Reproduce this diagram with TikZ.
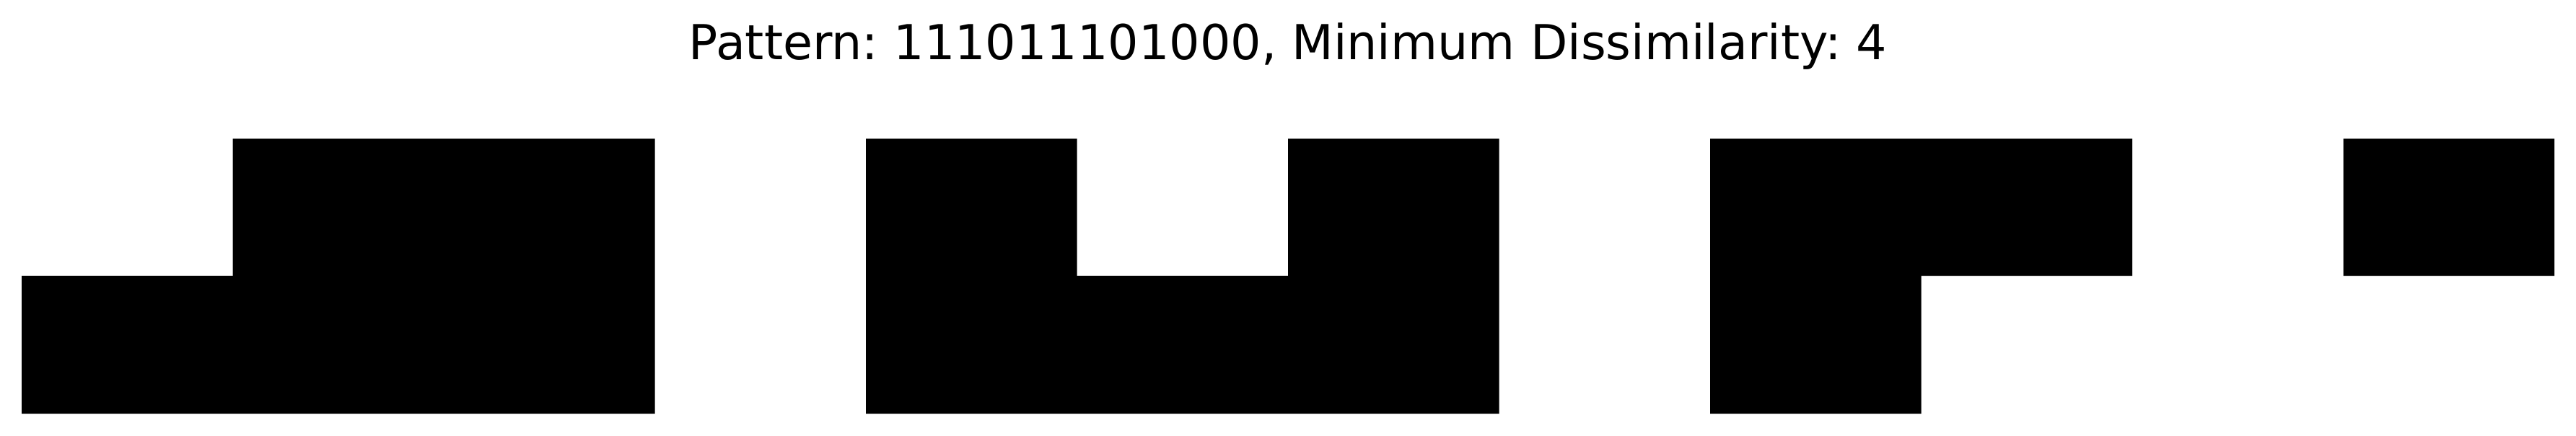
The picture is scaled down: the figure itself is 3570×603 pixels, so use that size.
\documentclass[tikz,border=0pt]{standalone}
\usepackage{fontspec}
\setmainfont{DejaVu Sans}
\frenchspacing
\begin{document}
\begin{tikzpicture}[x=0.2pt,y=0.2pt]
\useasboundingbox (0,0) rectangle (3570,603);
\fill[white] (0,0) rectangle (3570,603);
\node[anchor=base,inner sep=0pt,font=\fontsize{13.35pt}{16pt}\selectfont\frenchspacing] (title) at (1785,521) {Pattern: 111011101000, Minimum Dissimilarity: 4};
\def\cw{292.5}
% bottom row: 111011101000 ; top row: 011010101101
\fill[black]
  \foreach \i in {0,1,2,4,5,6,8} { (30+\i*\cw,30) rectangle (30+\i*\cw+\cw,221) }
  \foreach \i in {1,2,4,6,8,9,11} { (30+\i*\cw,221) rectangle (30+\i*\cw+\cw,411) };
\end{tikzpicture}
\end{document}
